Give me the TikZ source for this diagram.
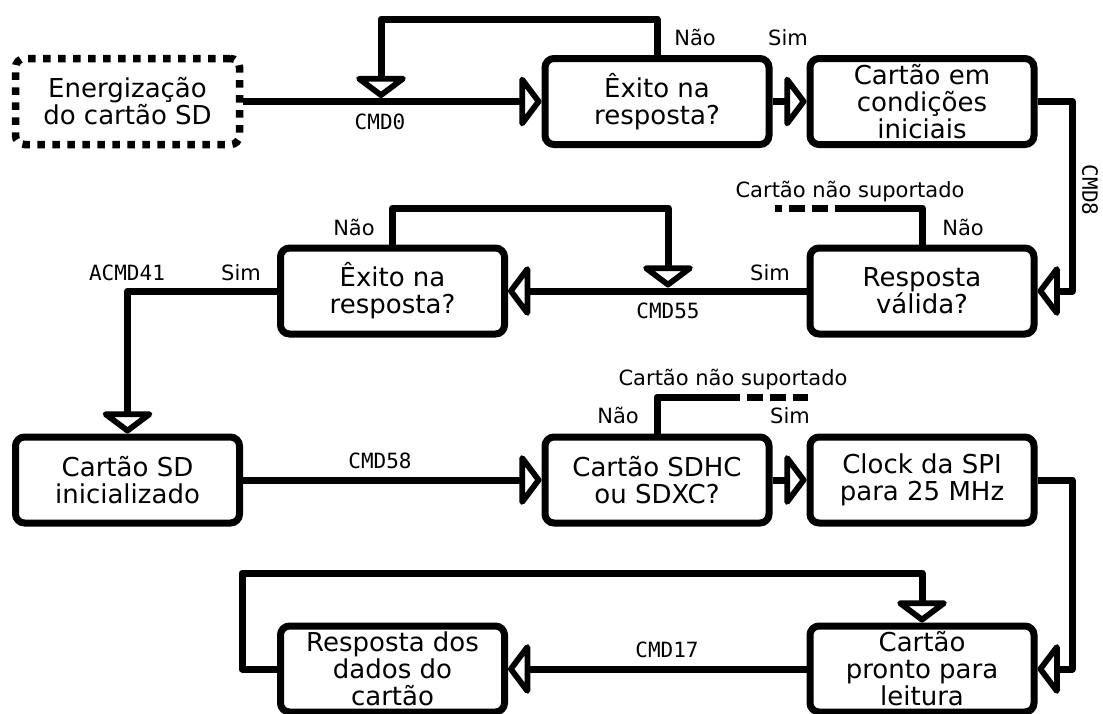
\documentclass[tikz,border=0pt]{standalone}
\usepackage{fontspec}
\setmainfont{DejaVu Sans}
\setmonofont{DejaVu Sans Mono}
\usetikzlibrary{arrows.meta}

\tikzset{
  stepbox/.style={draw, line width=7pt, rounded corners=9pt, fill=white,
    minimum width=224pt, minimum height=86pt, inner sep=0pt,
    align=center, font=\fontsize{26}{27}\selectfont},
  startbox/.style={stepbox, line width=7.5pt, dash pattern=on 7.5pt off 7.5pt},
  wire/.style={line width=7pt, line join=round},
  flow/.style={wire, -{Triangle[length=23pt, width=60pt, line width=7pt, fill=white, round]}},
  cut/.style={line width=7pt, dash pattern=on 16pt off 7pt, dash phase=16pt},
  lbl/.style={font=\fontsize{21}{24}\selectfont, inner sep=0pt, anchor=base},
  cmd/.style={font=\ttfamily\fontsize{21}{24}\selectfont, inner sep=0pt, anchor=base},
}

\begin{document}
\begin{tikzpicture}[x=1pt, y=-1pt]
  \useasboundingbox[fill=white] (0,0) rectangle (1103,713);

  % process boxes
  \node[startbox] (start)  at (127.5,101.5) {Energização\\do cartão SD};
  \node[stepbox]  (ex1)    at (657,101.5)   {Êxito na\\resposta?};
  \node[stepbox]  (cond)   at (922,101.5)   {Cartão em\\condições\\iniciais};
  \node[stepbox]  (valid)  at (922,291)     {Resposta\\válida?};
  \node[stepbox]  (ex2)    at (392.5,291)   {Êxito na\\resposta?};
  \node[stepbox]  (sdinit) at (127.5,480)   {Cartão SD\\inicializado};
  \node[stepbox]  (sdhc)   at (657,480)     {Cartão SDHC\\ou SDXC?};
  \node[stepbox]  (clock)  at (922,480)     {Clock da SPI\\para 25 MHz};
  \node[stepbox]  (pronto) at (922,669)     {Cartão\\pronto para\\leitura};
  \node[stepbox]  (resp)   at (392.5,669)   {Resposta dos\\dados do\\cartão};

  % routing points
  \coordinate (rx) at (1072,0);
  \coordinate (t0) at (381,19);
  \coordinate (m0) at (381,98);
  \coordinate (t1) at (668,208);
  \coordinate (m1) at (668,287.5);
  \coordinate (d1s) at (835,208);
  \coordinate (d1e) at (775,208);
  \coordinate (d2s) at (740,397);
  \coordinate (d2e) at (808,397);
  \coordinate (t3) at (242,573);

  % row 1
  \draw[flow] (start.east) -- (ex1.west);
  \draw[flow] (ex1.north) |- (t0) -- (m0);
  \draw[flow] (ex1.east) -- (cond.west);
  \draw[flow] (cond.east) -- (cond.east -| rx) -- (valid.east -| rx) -- (valid.east);

  % row 2
  \draw[flow] (valid.west) -- (ex2.east);
  \draw[flow] (ex2.north) |- (t1) -- (m1);
  \draw[wire] (valid.north) |- (d1s);
  \draw[cut] (d1s) -- (d1e);
  \draw[flow] (ex2.west) -| (sdinit.north);

  % row 3
  \draw[flow] (sdinit.east) -- (sdhc.west);
  \draw[flow] (sdhc.east) -- (clock.west);
  \draw[wire] (sdhc.north) |- (d2s);
  \draw[cut] (d2s) -- (d2e);
  \draw[flow] (clock.east) -- (clock.east -| rx) -- (pronto.east -| rx) -- (pronto.east);

  % row 4
  \draw[flow] (pronto.west) -- (resp.east);
  \draw[flow] (resp.west) -| (t3) -| (pronto.north);

  % labels
  \node[lbl] (l1) at (695,45) {Não};
  \node[lbl] (l2) at (788,45) {Sim};
  \node[cmd] (c0) at (380,129) {CMD0};
  \node[cmd, rotate=-90, anchor=center] (c8) at (1090,190) {CMD8};
  \node[lbl] (l3) at (850,197) {Cartão não suportado};
  \node[lbl] (l4) at (963,235) {Não};
  \node[lbl] (l5) at (770,280) {Sim};
  \node[cmd] (c55) at (668,318) {CMD55};
  \node[lbl] (l6) at (354,235) {Não};
  \node[lbl] (l7) at (241,280) {Sim};
  \node[cmd] (c41) at (127,280) {ACMD41};
  \node[lbl] (l8) at (733,385) {Cartão não suportado};
  \node[lbl] (l9) at (618,423) {Não};
  \node[lbl] (l10) at (790,423) {Sim};
  \node[cmd] (c58) at (380,468) {CMD58};
  \node[cmd] (c17) at (667,657) {CMD17};
\end{tikzpicture}
\end{document}
